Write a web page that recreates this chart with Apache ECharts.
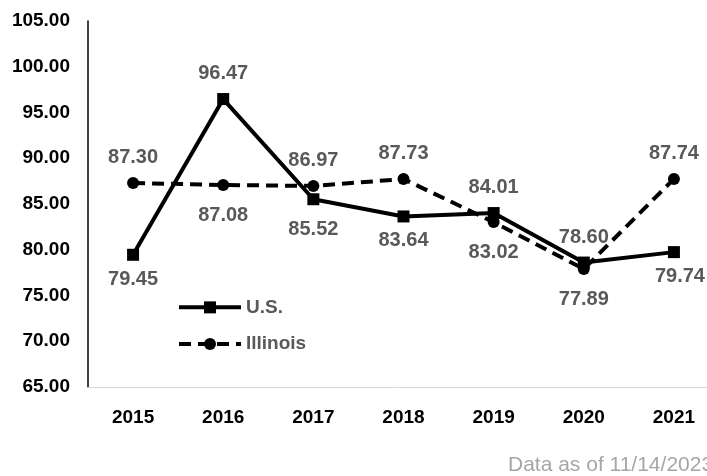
<!doctype html>
<html>
<head>
    <title>U.S. vs Illinois</title>
    <script src="https://cdn.jsdelivr.net/npm/echarts@6/dist/echarts.min.js"></script>
</head>
<style>
    html, body { margin: 0; padding: 0; background: #fff; }
    #main { width: 707px; height: 476px; }
</style>
<body>
<div id="main"></div>
<script>
  var years = ['2015', '2016', '2017', '2018', '2019', '2020', '2021'];
  var usValues = [79.45, 96.47, 85.52, 83.64, 84.01, 78.60, 79.74];
  var ilValues = [87.30, 87.08, 86.97, 87.73, 83.02, 77.89, 87.74];
  // where each value label sits relative to its point
  var usLabelPos = ['bottom', 'top', 'bottom', 'bottom', 'top', 'top', 'bottom'];
  var ilLabelPos = ['top', 'bottom', 'top', 'top', 'bottom', 'bottom', 'top'];
  var note = 'Data as of 11/14/2023';

  var font = 'Arial, "Liberation Sans", sans-serif';

  function withLabels(values, positions, tight) {
    return values.map(function (v, i) {
      var d = positions[i] === 'top' ? 2 : 7;
      if (tight.indexOf(i) >= 0) d = 1;
      var lab = { position: positions[i], distance: d };
      if (tight.indexOf(i) >= 0 && i === 6) lab.offset = [6, 0];
      return { value: v, label: lab };
    });
  }

  var myChart = echarts.init(document.getElementById('main'));

  myChart.setOption({
    animation: false,
    textStyle: { fontFamily: font },
    grid: { left: 88, width: 631, top: 21, bottom: 89, containLabel: false, outerBoundsMode: 'none' },
    legend: {
      orient: 'vertical',
      left: 177,
      top: 291,
      padding: 0,
      itemWidth: 62,
      itemHeight: 15,
      itemGap: 4,
      lineStyle: { width: 4 },
      textStyle: { color: '#595959', fontSize: 19, fontWeight: 'bold', fontFamily: font },
      data: ['U.S.', 'Illinois']
    },
    xAxis: {
      type: 'category',
      data: years,
      boundaryGap: true,
      axisLine: { lineStyle: { color: '#d9d9d9', width: 1 } },
      axisTick: { show: false },
      axisLabel: { color: '#000', fontSize: 19, fontWeight: 'bold', margin: 14, fontFamily: font }
    },
    yAxis: {
      type: 'value',
      min: 65,
      max: 105,
      interval: 5,
      splitLine: { show: false },
      axisLine: { show: true, lineStyle: { color: '#000', width: 1.5 } },
      axisTick: { show: false },
      axisLabel: {
        color: '#000', fontSize: 19, fontWeight: 'bold', margin: 18, fontFamily: font,
        formatter: function (v) { return v.toFixed(2); }
      }
    },
    series: [
      {
        name: 'Illinois',
        type: 'line',
        data: withLabels(ilValues, ilLabelPos, []),
        symbol: 'circle',
        symbolSize: 12,
        itemStyle: { color: '#000' },
        lineStyle: { color: '#000', width: 4, type: [12, 7] },
        label: {
          show: true, color: '#595959', fontSize: 20, fontWeight: 'bold', fontFamily: font,
          formatter: function (p) { return p.value.toFixed(2); }
        }
      },
      {
        name: 'U.S.',
        type: 'line',
        data: withLabels(usValues, usLabelPos, [0, 3, 6]),
        symbol: 'rect',
        symbolSize: 12,
        itemStyle: { color: '#000' },
        lineStyle: { color: '#000', width: 4 },
        label: {
          show: true, color: '#595959', fontSize: 20, fontWeight: 'bold', fontFamily: font,
          formatter: function (p) { return p.value.toFixed(2); }
        }
      }
    ],
    graphic: [
      {
        type: 'text',
        left: 508,
        top: 447,
        style: { text: note, fill: '#a6a6a6', fontSize: 21, fontFamily: font }
      }
    ]
  });
</script>
</body>
</html>
